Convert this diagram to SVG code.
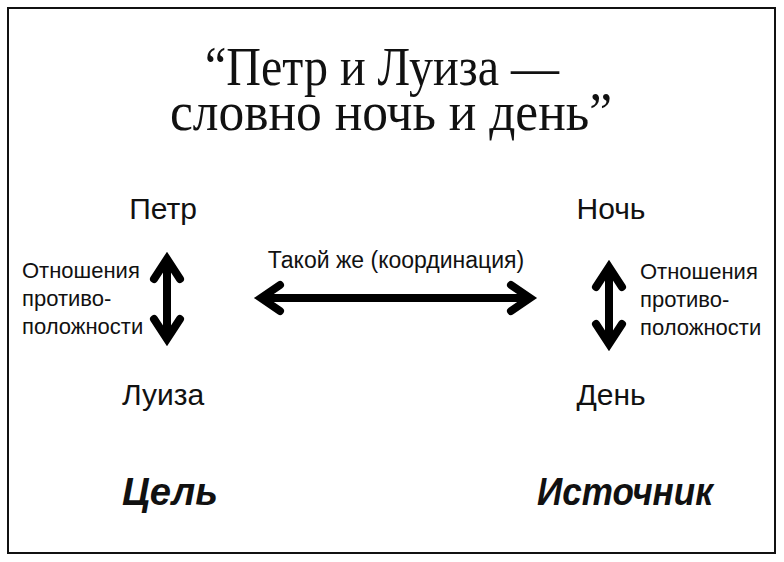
<svg xmlns="http://www.w3.org/2000/svg" width="784" height="562" viewBox="0 0 784 562">
<style>
.title{font-family:"Liberation Serif","Times New Roman",serif;font-size:54px;fill:#111}
.node{font-family:"Liberation Sans",Arial,sans-serif;font-size:30px;fill:#111;text-anchor:middle}
.lbl{font-family:"Liberation Sans",Arial,sans-serif;font-size:22px;fill:#111}
.mid{font-family:"Liberation Sans",Arial,sans-serif;font-size:23px;fill:#111;text-anchor:middle}
.big{font-family:"Liberation Sans",Arial,sans-serif;font-size:39px;font-weight:bold;font-style:italic;fill:#111}
.arr{fill:none;stroke:#000;stroke-width:8;stroke-linecap:round;stroke-linejoin:miter}
</style>
<rect x="0" y="0" width="784" height="562" fill="#fff"/>
<rect x="8" y="8" width="767" height="545" fill="none" stroke="#111" stroke-width="2"/>
<g id="title">
<text class="title" x="205" y="85" textLength="354" lengthAdjust="spacingAndGlyphs">“Петр и Луиза —</text>
<text class="title" x="170" y="130" textLength="442" lengthAdjust="spacingAndGlyphs">словно ночь и день”</text>
</g>
<g id="petr"><text class="node" x="163" y="219">Петр</text></g>
<g id="luiza"><text class="node" x="163" y="405">Луиза</text></g>
<g id="noch"><text class="node" x="611" y="219">Ночь</text></g>
<g id="den"><text class="node" x="611" y="405">День</text></g>
<g id="left-label"><text class="lbl" x="22" y="278">Отношения</text><text class="lbl" x="22" y="306">противо-</text><text class="lbl" x="22" y="334">положности</text></g>
<g id="right-label"><text class="lbl" x="640" y="279">Отношения</text><text class="lbl" x="640" y="307">противо-</text><text class="lbl" x="640" y="335">положности</text></g>
<g id="coord-label"><text class="mid" x="396" y="268">Такой же (координация)</text></g>
<g id="goal"><text class="big" x="122" y="505" textLength="96" lengthAdjust="spacingAndGlyphs">Цель</text></g>
<g id="source"><text class="big" x="537" y="505" textLength="176" lengthAdjust="spacingAndGlyphs">Источник</text></g>
<g id="connectors">
<path class="arr" d="M167 262 V336 M154 279 L167 259 L180 279 M154 319 L167 339 L180 319"/>
<path class="arr" d="M609 270 V341 M596 287 L609 267 L622 287 M596 324 L609 344 L622 324"/>
<path class="arr" d="M264 298 H527 M280 285 L261 298 L280 311 M511 285 L530 298 L511 311"/>
</g>
</svg>
